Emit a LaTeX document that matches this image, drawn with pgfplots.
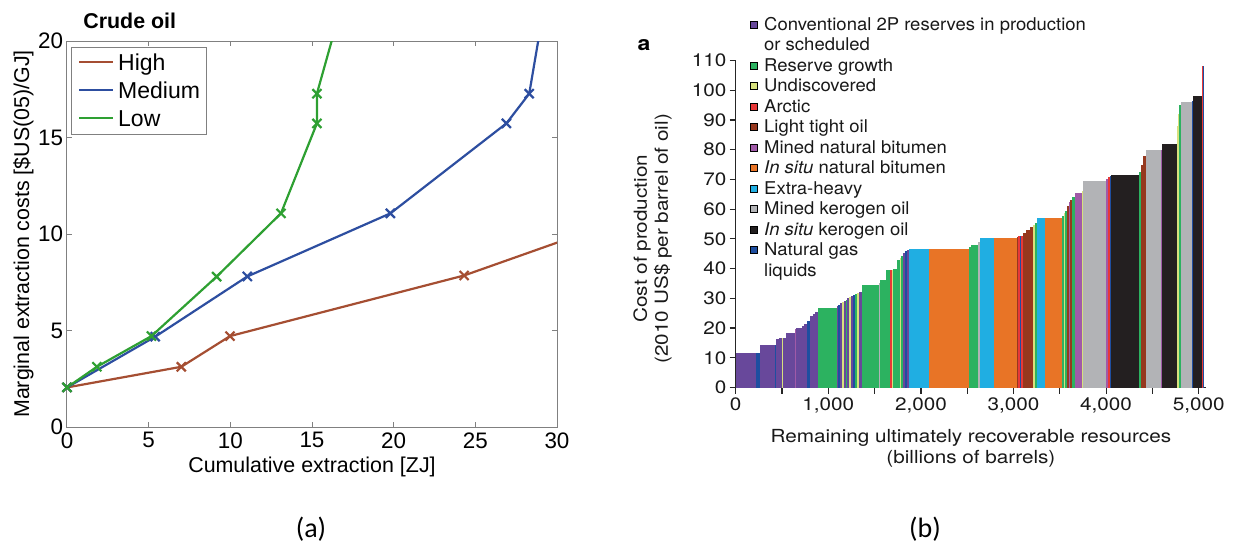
\documentclass[border=0pt]{standalone}
\usepackage{fontspec}
\setmainfont{Liberation Sans}
\newfontfamily\hel[FakeStretch=1.15]{TeX Gyre Heros}
\newfontfamily\helleg[FakeStretch=1.05]{TeX Gyre Heros}
\newfontfamily\calib{Carlito}
\usepackage{pgfplots}
\pgfplotsset{compat=1.18}
\definecolor{cHigh}{RGB}{165,78,50}
\definecolor{cMed}{RGB}{45,78,160}
\definecolor{cLow}{RGB}{46,160,50}
\definecolor{cgray}{RGB}{128,128,128}
\definecolor{kconv}{RGB}{104,72,155}
\definecolor{krg}{RGB}{44,178,96}
\definecolor{kund}{RGB}{215,225,125}
\definecolor{karc}{RGB}{232,56,56}
\definecolor{klto}{RGB}{150,56,30}
\definecolor{kmnb}{RGB}{160,90,168}
\definecolor{kisb}{RGB}{232,116,38}
\definecolor{kxh}{RGB}{32,174,226}
\definecolor{kmko}{RGB}{178,179,182}
\definecolor{kiko}{RGB}{35,31,32}
\definecolor{kngl}{RGB}{30,78,160}
\begin{document}
\begin{tikzpicture}
\path[use as bounding box] (0,0) rectangle (616.5pt,271.5pt);
% ---------------- panel (a) ----------------
\begin{axis}[
  at={(33.5pt,58pt)}, anchor=south west, scale only axis,
  width=245pt, height=193pt,
  xmin=0, xmax=30, ymin=0, ymax=20,
  xtick={0,5,...,30}, ytick={0,5,...,20},
  axis line style={cgray, line width=0.5pt},
  tick style={cgray, line width=0.5pt}, major tick length=2.5pt,
  tick align=inside,
  /pgf/number format/assume math mode=true,
  ticklabel style={font=\fontsize{11.2}{13}\selectfont, text=black},
  xticklabel style={inner ysep=2.5pt},
  yticklabel style={inner xsep=1.8pt},
  xlabel={Cumulative extraction [ZJ]},
  ylabel={Marginal extraction costs [\$US(05)/GJ]},
  label style={font=\fontsize{10.7}{12}\selectfont},
  xlabel style={at={(axis description cs:0.5,0)}, anchor=north, yshift=-14.7pt, inner sep=0pt},
  ylabel style={at={(axis description cs:-0.1102,0.5)}, anchor=north, inner sep=0pt},
  every axis title shift=0pt,
  title={Crude oil},
  title style={at={(axis description cs:0,1)}, anchor=base west, xshift=8pt, yshift=6.5pt, inner sep=0pt, font=\bfseries\fontsize{10.7}{12}\selectfont},
  legend style={at={(axis description cs:0,1)}, anchor=north west, xshift=2.5pt, yshift=-3pt,
    draw=cgray, line width=0.5pt, fill=white, inner xsep=3pt, inner ysep=3pt, outer sep=0pt,
    font=\fontsize{11.5}{13}\selectfont,
    nodes={inner sep=0pt, text height=8.5pt, text depth=1pt},
    row sep=4.5pt,
    /tikz/every odd column/.append style={column sep=2pt}},
  legend cell align=left,
  legend image code/.code={\draw[#1, mark=none] (0pt,0.4pt) -- (17pt,0.4pt);},
]
\addplot[cHigh, line width=1.1pt, mark=x, mark size=3.2pt, mark options={line width=1.1pt}]
  coordinates {(0,2.05) (7,3.12) (9.98,4.71) (24.31,7.85) (32,10.15)};
\addlegendentry{High}
\addplot[cMed, line width=1.1pt, mark=x, mark size=3.2pt, mark options={line width=1.1pt}]
  coordinates {(0,2.05) (5.4,4.68) (11.04,7.8) (19.8,11.07) (26.9,15.73) (28.3,17.27) (29.15,21.5)};
\addlegendentry{Medium}
\addplot[cLow, line width=1.1pt, mark=x, mark size=3.2pt, mark options={line width=1.1pt}]
  coordinates {(0,2.05) (1.83,3.12) (5.17,4.71) (9.16,7.79) (13.1,11.07) (15.3,15.73) (15.3,17.27) (16.7,21.5)};
\addlegendentry{Low}
\end{axis}
% ---------------- panel (b) ----------------
\begin{axis}[
  at={(367.85pt,77.75pt)}, anchor=south west, scale only axis,
  width=235.2pt, height=163.5pt,
  xmin=0, xmax=5080, ymin=0, ymax=110,
  axis x line*=bottom, axis y line*=left,
  axis line style={-, black!85, line width=0.6pt},
  tick align=outside, major tick length=3pt,
  tick style={black!85, line width=0.6pt},
  xtick={0,500,...,5000},
  xticklabels={0,,{1,000},,{2,000},,{3,000},,{4,000},,{5,000}},
  ytick={0,10,...,110},
  scaled x ticks=false,
  /pgf/number format/assume math mode=true,
  ticklabel style={font=\hel\fontsize{9}{10}\selectfont, text=black!90},
  xticklabel style={inner ysep=1.8pt},
  yticklabel style={inner xsep=1.5pt},
  xlabel={Remaining ultimately recoverable resources\\(billions of barrels)},
  ylabel={Cost of production\\(2010 US\$ per barrel of oil)},
  label style={font=\hel\fontsize{9}{10.5}\selectfont, text=black!90, align=center},
  xlabel style={at={(axis description cs:0.5,0)}, anchor=north, yshift=-20.65pt, inner sep=0pt},
  ylabel style={at={(axis description cs:-0.2183,0.455)}, anchor=north, inner sep=0pt},
  legend style={at={(axis description cs:0.0304,1.1335)}, anchor=north west,
    draw=none, fill=none, inner sep=0pt, outer sep=0pt,
    font=\helleg\fontsize{8.8}{10}\selectfont, text=black!90,
    nodes={inner sep=0pt, text height=6.6pt, text depth=2pt},
    row sep=1.65pt,
    /tikz/every odd column/.append style={column sep=3.3pt}},
  legend cell align=left,
  legend image code/.code={\fill[#1] (0pt,-1.3pt) rectangle (3.4pt,2.1pt);},
]
\addplot[draw=none, fill=kconv, forget plot] coordinates {(0,0) (0,11.7) (220,11.7) (220,0)} -- cycle;
\addplot[draw=none, fill=kngl, forget plot] coordinates {(220,0) (220,11.7) (265,11.7) (265,0)} -- cycle;
\addplot[draw=none, fill=kconv, forget plot] coordinates {(265,0) (265,14.4) (420,14.4) (420,0)} -- cycle;
\addplot[draw=none, fill=kngl, forget plot] coordinates {(420,0) (420,14.4) (435,14.4) (435,0)} -- cycle;
\addplot[draw=none, fill=kconv, forget plot] coordinates {(435,0) (435,16.2) (470,16.2) (470,0)} -- cycle;
\addplot[draw=none, fill=kconv, forget plot] coordinates {(470,0) (470,16.6) (495,16.6) (495,0)} -- cycle;
\addplot[draw=none, fill=kund, forget plot] coordinates {(495,0) (495,16.7) (512,16.7) (512,0)} -- cycle;
\addplot[draw=none, fill=kconv, forget plot] coordinates {(512,0) (512,16.8) (545,16.8) (545,0)} -- cycle;
\addplot[draw=none, fill=kconv, forget plot] coordinates {(545,0) (545,18.3) (640,18.3) (640,0)} -- cycle;
\addplot[draw=none, fill=kmnb, forget plot] coordinates {(640,0) (640,19.6) (655,19.6) (655,0)} -- cycle;
\addplot[draw=none, fill=kconv, forget plot] coordinates {(655,0) (655,20.0) (712,20.0) (712,0)} -- cycle;
\addplot[draw=none, fill=kconv, forget plot] coordinates {(712,0) (712,20.8) (740,20.8) (740,0)} -- cycle;
\addplot[draw=none, fill=kconv, forget plot] coordinates {(740,0) (740,21.5) (770,21.5) (770,0)} -- cycle;
\addplot[draw=none, fill=kngl, forget plot] coordinates {(770,0) (770,22.5) (800,22.5) (800,0)} -- cycle;
\addplot[draw=none, fill=kconv, forget plot] coordinates {(800,0) (800,24.0) (830,24.0) (830,0)} -- cycle;
\addplot[draw=none, fill=kconv, forget plot] coordinates {(830,0) (830,24.6) (860,24.6) (860,0)} -- cycle;
\addplot[draw=none, fill=kconv, forget plot] coordinates {(860,0) (860,25.4) (885,25.4) (885,0)} -- cycle;
\addplot[draw=none, fill=krg, forget plot] coordinates {(885,0) (885,26.9) (1090,26.9) (1090,0)} -- cycle;
\addplot[draw=none, fill=kconv, forget plot] coordinates {(1090,0) (1090,27.4) (1110,27.4) (1110,0)} -- cycle;
\addplot[draw=none, fill=kngl, forget plot] coordinates {(1110,0) (1110,27.8) (1130,27.8) (1130,0)} -- cycle;
\addplot[draw=none, fill=kconv, forget plot] coordinates {(1130,0) (1130,28.3) (1150,28.3) (1150,0)} -- cycle;
\addplot[draw=none, fill=kund, forget plot] coordinates {(1150,0) (1150,28.6) (1165,28.6) (1165,0)} -- cycle;
\addplot[draw=none, fill=kconv, forget plot] coordinates {(1165,0) (1165,29.2) (1190,29.2) (1190,0)} -- cycle;
\addplot[draw=none, fill=krg, forget plot] coordinates {(1190,0) (1190,29.5) (1205,29.5) (1205,0)} -- cycle;
\addplot[draw=none, fill=kconv, forget plot] coordinates {(1205,0) (1205,30.1) (1225,30.1) (1225,0)} -- cycle;
\addplot[draw=none, fill=kund, forget plot] coordinates {(1225,0) (1225,30.4) (1240,30.4) (1240,0)} -- cycle;
\addplot[draw=none, fill=kconv, forget plot] coordinates {(1240,0) (1240,30.8) (1265,30.8) (1265,0)} -- cycle;
\addplot[draw=none, fill=kngl, forget plot] coordinates {(1265,0) (1265,31.2) (1290,31.2) (1290,0)} -- cycle;
\addplot[draw=none, fill=krg, forget plot] coordinates {(1290,0) (1290,31.6) (1310,31.6) (1310,0)} -- cycle;
\addplot[draw=none, fill=kund, forget plot] coordinates {(1310,0) (1310,31.8) (1330,31.8) (1330,0)} -- cycle;
\addplot[draw=none, fill=kconv, forget plot] coordinates {(1330,0) (1330,32.0) (1360,32.0) (1360,0)} -- cycle;
\addplot[draw=none, fill=krg, forget plot] coordinates {(1360,0) (1360,34.4) (1545,34.4) (1545,0)} -- cycle;
\addplot[draw=none, fill=kmko, forget plot] coordinates {(1545,0) (1545,35.2) (1560,35.2) (1560,0)} -- cycle;
\addplot[draw=none, fill=krg, forget plot] coordinates {(1560,0) (1560,36.0) (1625,36.0) (1625,0)} -- cycle;
\addplot[draw=none, fill=krg, forget plot] coordinates {(1625,0) (1625,39.5) (1670,39.5) (1670,0)} -- cycle;
\addplot[draw=none, fill=karc, forget plot] coordinates {(1670,0) (1670,39.5) (1685,39.5) (1685,0)} -- cycle;
\addplot[draw=none, fill=kund, forget plot] coordinates {(1685,0) (1685,39.5) (1700,39.5) (1700,0)} -- cycle;
\addplot[draw=none, fill=krg, forget plot] coordinates {(1700,0) (1700,39.7) (1740,39.7) (1740,0)} -- cycle;
\addplot[draw=none, fill=krg, forget plot] coordinates {(1740,0) (1740,42.8) (1775,42.8) (1775,0)} -- cycle;
\addplot[draw=none, fill=kund, forget plot] coordinates {(1775,0) (1775,43.7) (1790,43.7) (1790,0)} -- cycle;
\addplot[draw=none, fill=krg, forget plot] coordinates {(1790,0) (1790,44.4) (1810,44.4) (1810,0)} -- cycle;
\addplot[draw=none, fill=kconv, forget plot] coordinates {(1810,0) (1810,45.3) (1830,45.3) (1830,0)} -- cycle;
\addplot[draw=none, fill=kngl, forget plot] coordinates {(1830,0) (1830,45.8) (1845,45.8) (1845,0)} -- cycle;
\addplot[draw=none, fill=kconv, forget plot] coordinates {(1845,0) (1845,46.3) (1870,46.3) (1870,0)} -- cycle;
\addplot[draw=none, fill=kxh, forget plot] coordinates {(1870,0) (1870,46.7) (2090,46.7) (2090,0)} -- cycle;
\addplot[draw=none, fill=kisb, forget plot] coordinates {(2090,0) (2090,46.7) (2515,46.7) (2515,0)} -- cycle;
\addplot[draw=none, fill=krg, forget plot] coordinates {(2515,0) (2515,47.2) (2545,47.2) (2545,0)} -- cycle;
\addplot[draw=none, fill=krg, forget plot] coordinates {(2545,0) (2545,48.1) (2620,48.1) (2620,0)} -- cycle;
\addplot[draw=none, fill=kmko, forget plot] coordinates {(2620,0) (2620,49.0) (2640,49.0) (2640,0)} -- cycle;
\addplot[draw=none, fill=kxh, forget plot] coordinates {(2640,0) (2640,50.3) (2785,50.3) (2785,0)} -- cycle;
\addplot[draw=none, fill=kisb, forget plot] coordinates {(2785,0) (2785,50.3) (3035,50.3) (3035,0)} -- cycle;
\addplot[draw=none, fill=klto, forget plot] coordinates {(3035,0) (3035,50.6) (3050,50.6) (3050,0)} -- cycle;
\addplot[draw=none, fill=karc, forget plot] coordinates {(3050,0) (3050,50.8) (3065,50.8) (3065,0)} -- cycle;
\addplot[draw=none, fill=kngl, forget plot] coordinates {(3065,0) (3065,50.9) (3085,50.9) (3085,0)} -- cycle;
\addplot[draw=none, fill=karc, forget plot] coordinates {(3085,0) (3085,51.0) (3105,51.0) (3105,0)} -- cycle;
\addplot[draw=none, fill=klto, forget plot] coordinates {(3105,0) (3105,52.0) (3140,52.0) (3140,0)} -- cycle;
\addplot[draw=none, fill=klto, forget plot] coordinates {(3140,0) (3140,53.0) (3175,53.0) (3175,0)} -- cycle;
\addplot[draw=none, fill=klto, forget plot] coordinates {(3175,0) (3175,54.0) (3215,54.0) (3215,0)} -- cycle;
\addplot[draw=none, fill=kund, forget plot] coordinates {(3215,0) (3215,54.8) (3235,54.8) (3235,0)} -- cycle;
\addplot[draw=none, fill=krg, forget plot] coordinates {(3235,0) (3235,55.5) (3250,55.5) (3250,0)} -- cycle;
\addplot[draw=none, fill=kxh, forget plot] coordinates {(3250,0) (3250,57.1) (3345,57.1) (3345,0)} -- cycle;
\addplot[draw=none, fill=kisb, forget plot] coordinates {(3345,0) (3345,57.1) (3520,57.1) (3520,0)} -- cycle;
\addplot[draw=none, fill=krg, forget plot] coordinates {(3520,0) (3520,57.8) (3540,57.8) (3540,0)} -- cycle;
\addplot[draw=none, fill=kund, forget plot] coordinates {(3540,0) (3540,58.6) (3560,58.6) (3560,0)} -- cycle;
\addplot[draw=none, fill=krg, forget plot] coordinates {(3560,0) (3560,59.5) (3575,59.5) (3575,0)} -- cycle;
\addplot[draw=none, fill=klto, forget plot] coordinates {(3575,0) (3575,61.0) (3595,61.0) (3595,0)} -- cycle;
\addplot[draw=none, fill=kmnb, forget plot] coordinates {(3595,0) (3595,62.3) (3615,62.3) (3615,0)} -- cycle;
\addplot[draw=none, fill=klto, forget plot] coordinates {(3615,0) (3615,63.2) (3635,63.2) (3635,0)} -- cycle;
\addplot[draw=none, fill=krg, forget plot] coordinates {(3635,0) (3635,64.0) (3660,64.0) (3660,0)} -- cycle;
\addplot[draw=none, fill=kmnb, forget plot] coordinates {(3660,0) (3660,65.3) (3740,65.3) (3740,0)} -- cycle;
\addplot[draw=none, fill=kund, forget plot] coordinates {(3740,0) (3740,66.0) (3755,66.0) (3755,0)} -- cycle;
\addplot[draw=none, fill=kmko, forget plot] coordinates {(3755,0) (3755,69.5) (4000,69.5) (4000,0)} -- cycle;
\addplot[draw=none, fill=kmnb, forget plot] coordinates {(4000,0) (4000,70.3) (4020,70.3) (4020,0)} -- cycle;
\addplot[draw=none, fill=karc, forget plot] coordinates {(4020,0) (4020,70.8) (4040,70.8) (4040,0)} -- cycle;
\addplot[draw=none, fill=kngl, forget plot] coordinates {(4040,0) (4040,71.0) (4055,71.0) (4055,0)} -- cycle;
\addplot[draw=none, fill=kiko, forget plot] coordinates {(4055,0) (4055,71.5) (4355,71.5) (4355,0)} -- cycle;
\addplot[draw=none, fill=krg, forget plot] coordinates {(4355,0) (4355,72.5) (4375,72.5) (4375,0)} -- cycle;
\addplot[draw=none, fill=klto, forget plot] coordinates {(4375,0) (4375,75.0) (4395,75.0) (4395,0)} -- cycle;
\addplot[draw=none, fill=klto, forget plot] coordinates {(4395,0) (4395,78.0) (4430,78.0) (4430,0)} -- cycle;
\addplot[draw=none, fill=kmko, forget plot] coordinates {(4430,0) (4430,79.8) (4590,79.8) (4590,0)} -- cycle;
\addplot[draw=none, fill=kmnb, forget plot] coordinates {(4590,0) (4590,80.0) (4605,80.0) (4605,0)} -- cycle;
\addplot[draw=none, fill=kiko, forget plot] coordinates {(4605,0) (4605,81.8) (4770,81.8) (4770,0)} -- cycle;
\addplot[draw=none, fill=kund, forget plot] coordinates {(4770,0) (4770,88.0) (4780,88.0) (4780,0)} -- cycle;
\addplot[draw=none, fill=kund, forget plot] coordinates {(4780,0) (4780,92.0) (4790,92.0) (4790,0)} -- cycle;
\addplot[draw=none, fill=krg, forget plot] coordinates {(4790,0) (4790,95.0) (4805,95.0) (4805,0)} -- cycle;
\addplot[draw=none, fill=kmko, forget plot] coordinates {(4805,0) (4805,96.2) (4925,96.2) (4925,0)} -- cycle;
\addplot[draw=none, fill=kngl, forget plot] coordinates {(4925,0) (4925,96.5) (4935,96.5) (4935,0)} -- cycle;
\addplot[draw=none, fill=kiko, forget plot] coordinates {(4935,0) (4935,98.1) (5040,98.1) (5040,0)} -- cycle;
\addplot[draw=none, fill=karc, forget plot] coordinates {(5040,0) (5040,108.3) (5048,108.3) (5048,0)} -- cycle;
\addplot[draw=none, fill=kngl, forget plot] coordinates {(5048,0) (5048,108.3) (5055,108.3) (5055,0)} -- cycle;
% legend
\addlegendimage{fill=kconv}\addlegendentry{Conventional 2P reserves in production}
\addlegendimage{empty legend}\addlegendentry{or scheduled}
\addlegendimage{fill=krg}\addlegendentry{Reserve growth}
\addlegendimage{fill=kund}\addlegendentry{Undiscovered}
\addlegendimage{fill=karc}\addlegendentry{Arctic}
\addlegendimage{fill=klto}\addlegendentry{Light tight oil}
\addlegendimage{fill=kmnb}\addlegendentry{Mined natural bitumen}
\addlegendimage{fill=kisb}\addlegendentry{\textit{In situ} natural bitumen}
\addlegendimage{fill=kxh}\addlegendentry{Extra-heavy}
\addlegendimage{fill=kmko}\addlegendentry{Mined kerogen oil}
\addlegendimage{fill=kiko}\addlegendentry{\textit{In situ} kerogen oil}
\addlegendimage{fill=kngl}\addlegendentry{Natural gas}
\addlegendimage{empty legend}\addlegendentry{liquids}
\end{axis}
\node[anchor=base west, inner sep=0pt, font=\hel\bfseries\fontsize{10}{12}\selectfont] at (318.6pt,246.5pt) {a};
\node[inner sep=0pt, font=\calib\fontsize{14}{16}\selectfont] at (155.5pt,7pt) {(a)};
\node[inner sep=0pt, font=\calib\fontsize{14}{16}\selectfont] at (462.5pt,7pt) {(b)};
\end{tikzpicture}
\end{document}
